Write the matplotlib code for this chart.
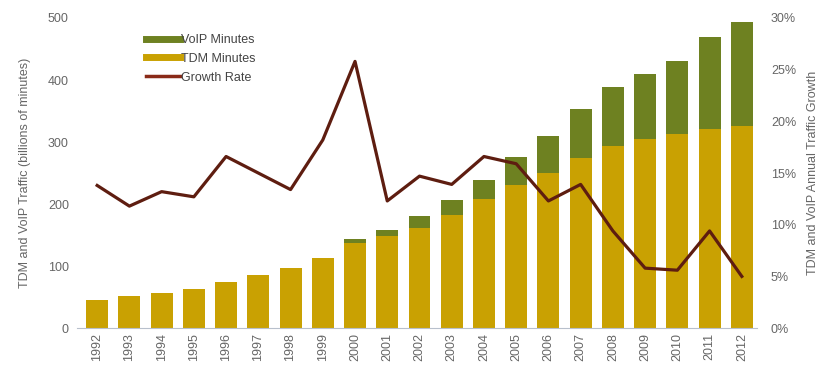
import numpy as np
import matplotlib.pyplot as plt
from matplotlib.lines import Line2D

years = [str(y) for y in range(1992, 2013)]
tdm_minutes = [45, 52, 56, 63, 74, 86, 97, 113, 137, 149, 162, 183, 208, 231,
               250, 275, 294, 305, 313, 321, 326]
total_minutes = [45, 52, 56, 63, 74, 86, 97, 113, 144, 158, 181, 207, 239, 276,
                 310, 354, 388, 409, 431, 470, 494]
voip_minutes = [t - d for t, d in zip(total_minutes, tdm_minutes)]
growth_rate = [0.138, 0.118, 0.132, 0.127, 0.166, 0.150, 0.134, 0.182, 0.258,
               0.123, 0.147, 0.139, 0.166, 0.159, 0.123, 0.139, 0.094, 0.058,
               0.056, 0.094, 0.050]

plt.rcParams['font.family'] = ['Liberation Sans', 'DejaVu Sans']

tdm_color = "#C9A102"
voip_color = "#6E8121"
line_color = "#5E1D10"
text_color = "#666666"

fig = plt.figure(figsize=(8.21, 3.67), dpi=100)
ax = fig.add_axes([0.094, 0.106, 0.828, 0.845])
x = np.arange(len(years))

ax.bar(x, tdm_minutes, width=0.68, color=tdm_color)
ax.bar(x, voip_minutes, width=0.68, bottom=tdm_minutes, color=voip_color)
ax.set_xlim(-0.62, 20.47)
ax.set_ylim(0, 500)
ax.set_yticks([0, 100, 200, 300, 400, 500])
ax.set_xticks(x)
ax.set_xticklabels(years, rotation=90)
ax.tick_params(length=0, colors=text_color, labelsize=9)
ax.tick_params(axis='y', pad=6)
ax.set_ylabel("TDM and VoIP Traffic (billions of minutes)", color=text_color, fontsize=9, labelpad=12)
for s in ["top", "left", "right"]:
    ax.spines[s].set_visible(False)
ax.spines["bottom"].set_color("#B8C0CC")

ax2 = ax.twinx()
ax2.plot(x, growth_rate, color=line_color, linewidth=2.3)
ax2.set_ylim(0, 0.30)
ax2.set_yticks([0, 0.05, 0.10, 0.15, 0.20, 0.25, 0.30])
ax2.set_yticklabels(["0%", "5%", "10%", "15%", "20%", "25%", "30%"])
ax2.tick_params(length=0, colors=text_color, labelsize=9, pad=10)
ax2.set_ylabel("TDM and VoIP Annual Traffic Growth", color=text_color, fontsize=9, labelpad=8)
for s in ax2.spines.values():
    s.set_visible(False)

handles = [
    Line2D([0], [0], color=voip_color, linewidth=5),
    Line2D([0], [0], color=tdm_color, linewidth=5),
    Line2D([0], [0], color="#8A2A18", linewidth=2.5),
]
ax2.legend(handles, ["VoIP Minutes", "TDM Minutes", "Growth Rate"],
           loc="upper left", bbox_to_anchor=(0.085, 0.985), frameon=False,
           fontsize=9, handlelength=2.7, handletextpad=0.1, labelspacing=0.55,
           labelcolor="#444444")

fig.savefig("out.png", dpi=100)
